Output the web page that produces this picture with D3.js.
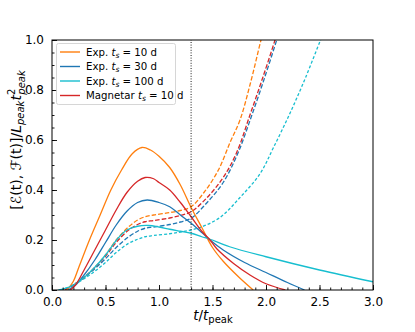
<!DOCTYPE html>
<html><head><meta charset="utf-8">
<script src="https://cdn.jsdelivr.net/npm/d3@7"></script>
<style>body{margin:0;background:#fff}svg{display:block}text{font-family:"DejaVu Sans",sans-serif}</style>
</head><body><svg id="c" width="415" height="332"></svg>
<script>
const xTicks=[0.0,0.5,1.0,1.5,2.0,2.5,3.0];
const yTicks=[0.0,0.2,0.4,0.6,0.8,1.0];
const tMark=1.3;
const seriesNames=["Exp. ts=10 d","Exp. ts=30 d","Exp. ts=100 d","Magnetar ts=10 d"];
const colors=["#ff7f0e","#1f77b4","#17becf","#d62728"];
// solid curves [t, value]
const solidOrange=[[0.14,0],[0.2,0.035],[0.25,0.09],[0.35,0.2],[0.45,0.3],[0.55,0.4],[0.65,0.48],[0.75,0.545],[0.84,0.57],[0.92,0.56],[1.0,0.535],[1.1,0.49],[1.2,0.42],[1.3,0.33],[1.4,0.25],[1.5,0.17],[1.6,0.115],[1.75,0.05],[1.88,0]];
const solidBlue=[[0.15,0],[0.22,0.02],[0.3,0.06],[0.4,0.12],[0.5,0.19],[0.6,0.26],[0.7,0.315],[0.8,0.35],[0.89,0.36],[1.0,0.35],[1.1,0.333],[1.2,0.30],[1.3,0.267],[1.4,0.23],[1.477,0.2],[1.6,0.16],[1.8,0.11],[2.0,0.07],[2.2,0.03],[2.36,0]];
const solidCyan=[[0.06,0],[0.15,0.01],[0.2,0.02],[0.3,0.05],[0.405,0.093],[0.5,0.14],[0.623,0.21],[0.7,0.24],[0.8,0.255],[0.9,0.258],[1.0,0.252],[1.1,0.243],[1.2,0.235],[1.3,0.227],[1.4,0.213],[1.477,0.203],[1.66,0.173],[2.0,0.133],[2.5,0.08],[3.0,0.033]];
const solidRed=[[0.17,0],[0.22,0.02],[0.3,0.08],[0.4,0.16],[0.5,0.24],[0.6,0.32],[0.7,0.39],[0.8,0.435],[0.87,0.45],[0.95,0.445],[1.0,0.43],[1.1,0.40],[1.2,0.35],[1.3,0.293],[1.4,0.235],[1.477,0.2],[1.54,0.165],[1.7,0.105],[1.85,0.06],[2.0,0.025],[2.18,0]];
// dashed curves
const dashOrange=[[0.12,0],[0.2,0.02],[0.3,0.05],[0.4,0.09],[0.5,0.14],[0.6,0.2],[0.717,0.253],[0.8,0.28],[0.87,0.293],[0.95,0.30],[1.1,0.31],[1.2,0.318],[1.3,0.333],[1.42,0.39],[1.555,0.48],[1.664,0.59],[1.757,0.68],[1.85,0.82],[1.953,1.0],[2.0,1.08]];
const dashBlue=[[0.12,0],[0.2,0.02],[0.3,0.05],[0.4,0.085],[0.5,0.125],[0.6,0.17],[0.717,0.213],[0.8,0.235],[0.87,0.247],[0.95,0.252],[1.1,0.262],[1.2,0.272],[1.3,0.287],[1.45,0.35],[1.6,0.43],[1.74,0.55],[1.86,0.69],[1.98,0.84],[2.10,1.0],[2.15,1.07]];
const dashCyan=[[0.08,0],[0.2,0.02],[0.3,0.045],[0.4,0.075],[0.5,0.11],[0.6,0.15],[0.717,0.187],[0.8,0.203],[0.87,0.213],[0.95,0.218],[1.1,0.225],[1.2,0.232],[1.3,0.24],[1.383,0.25],[1.57,0.29],[1.757,0.37],[1.944,0.465],[2.07,0.57],[2.224,0.707],[2.37,0.85],[2.51,1.0],[2.55,1.04]];
const dashRed=[[0.12,0],[0.2,0.02],[0.3,0.05],[0.4,0.09],[0.5,0.135],[0.6,0.19],[0.717,0.24],[0.8,0.262],[0.87,0.273],[0.95,0.278],[1.1,0.288],[1.2,0.298],[1.3,0.313],[1.45,0.37],[1.6,0.45],[1.726,0.55],[1.85,0.70],[1.97,0.85],[2.084,1.0],[2.13,1.07]];

const svg=d3.select("#c");
const L=52,R=373,T=40,B=290;
const x=d3.scaleLinear().domain([0,3]).range([L,R]);
const y=d3.scaleLinear().domain([0,1]).range([B,T]);
svg.append("defs").append("clipPath").attr("id","pc").append("rect").attr("x",L).attr("y",T).attr("width",R-L).attr("height",B-T);
const g=svg.append("g").attr("clip-path","url(#pc)");
const line=d3.line().x(d=>x(d[0])).y(d=>y(d[1])).curve(d3.curveCatmullRom.alpha(0.5));

// dotted line
svg.append("line").attr("x1",x(tMark)).attr("x2",x(tMark)).attr("y1",y(0)).attr("y2",y(1))
  .attr("stroke","#000").attr("stroke-width",0.9).attr("stroke-dasharray","1,1.6");

const solids=[solidOrange,solidBlue,solidCyan,solidRed];
const dashes=[dashOrange,dashBlue,dashCyan,dashRed];
const dashPat=["4.5,2","4.5,2","3,2","4.5,2"];
dashes.forEach((d,i)=>g.append("path").attr("d",line(d)).attr("fill","none").attr("stroke",colors[i]).attr("stroke-width",1.3).attr("stroke-dasharray",dashPat[i]));
solids.forEach((d,i)=>g.append("path").attr("d",line(d)).attr("fill","none").attr("stroke",colors[i]).attr("stroke-width",1.3));

// axes
const ax=svg.append("g").attr("transform",`translate(0,${B})`).call(d3.axisBottom(x).tickValues(xTicks).tickFormat(d3.format(".1f")).tickSizeInner(-5).tickSizeOuter(0).tickPadding(7));
const axm=svg.append("g").attr("transform",`translate(0,${B})`).call(d3.axisBottom(x).tickValues(d3.range(0,31).map(i=>i/10)).tickFormat("").tickSizeInner(-2.5).tickSizeOuter(0));
const ay=svg.append("g").attr("transform",`translate(${L},0)`).call(d3.axisLeft(y).tickValues(yTicks).tickFormat(d3.format(".1f")).tickSizeInner(-5).tickSizeOuter(0).tickPadding(8));
const aym=svg.append("g").attr("transform",`translate(${L},0)`).call(d3.axisLeft(y).tickValues(d3.range(0,21).map(i=>i/20)).tickFormat("").tickSizeInner(-2.5).tickSizeOuter(0));
[ax,axm,ay,aym].forEach(a=>{a.select(".domain").remove();a.selectAll("line").attr("stroke","#000").attr("stroke-width",0.9);a.selectAll("text").attr("font-size",12).attr("fill","#000").attr("font-family","DejaVu Sans");});
svg.append("rect").attr("x",L).attr("y",T).attr("width",R-L).attr("height",B-T).attr("fill","none").attr("stroke","#000").attr("stroke-width",1);

// x label
const xl=svg.append("text").attr("x",213).attr("y",320).attr("text-anchor","middle").attr("font-size",13.5);
xl.append("tspan").attr("font-style","italic").text("t");
xl.append("tspan").text("/");
xl.append("tspan").attr("font-style","italic").text("t");
xl.append("tspan").attr("font-size",10).attr("dy",3).text("peak");
// y label
const yl=svg.append("text").attr("transform","translate(21,140) rotate(-90)").attr("text-anchor","middle").attr("font-size",14);
yl.append("tspan").text("[");
yl.append("tspan").attr("font-style","italic").text("ℰ");
yl.append("tspan").text("(t), ");
yl.append("tspan").attr("font-style","italic").text("ℱ");
yl.append("tspan").text("(t)]/");
yl.append("tspan").attr("font-style","italic").text("L");
yl.append("tspan").attr("font-style","italic").attr("font-size",10).attr("dy",3).text("peak");
yl.append("tspan").attr("font-style","italic").attr("dy",-3).text("t");
yl.append("tspan").attr("font-size",10).attr("dy",-6).attr("dx",0).text("2");
yl.append("tspan").attr("font-style","italic").attr("font-size",10).attr("dy",10).attr("dx",-6).text("peak");

// legend
const lg=svg.append("g");
lg.append("rect").attr("x",56.5).attr("y",43.5).attr("width",119).attr("height",61).attr("rx",2).attr("fill","#fff").attr("fill-opacity",0.8).attr("stroke","#ccc").attr("stroke-width",0.8);
const legLabels=[["Exp. ","10 d"],["Exp. ","30 d"],["Exp. ","100 d"],["Magnetar ","10 d"]];
const legOrder=[0,1,2,3];
legOrder.forEach((k,i)=>{
  const yy=52+i*14.5;
  lg.append("line").attr("x1",60).attr("x2",80).attr("y1",yy).attr("y2",yy).attr("stroke",colors[k]).attr("stroke-width",1.4);
  const t=lg.append("text").attr("x",86).attr("y",yy+3.7).attr("font-size",10.2);
  t.append("tspan").text(legLabels[i][0]);
  t.append("tspan").attr("font-style","italic").text("t");
  t.append("tspan").attr("font-style","italic").attr("font-size",7.5).attr("dy",2).text("s");
  t.append("tspan").attr("dy",-2).text(" = "+legLabels[i][1]);
});
</script></body></html>
